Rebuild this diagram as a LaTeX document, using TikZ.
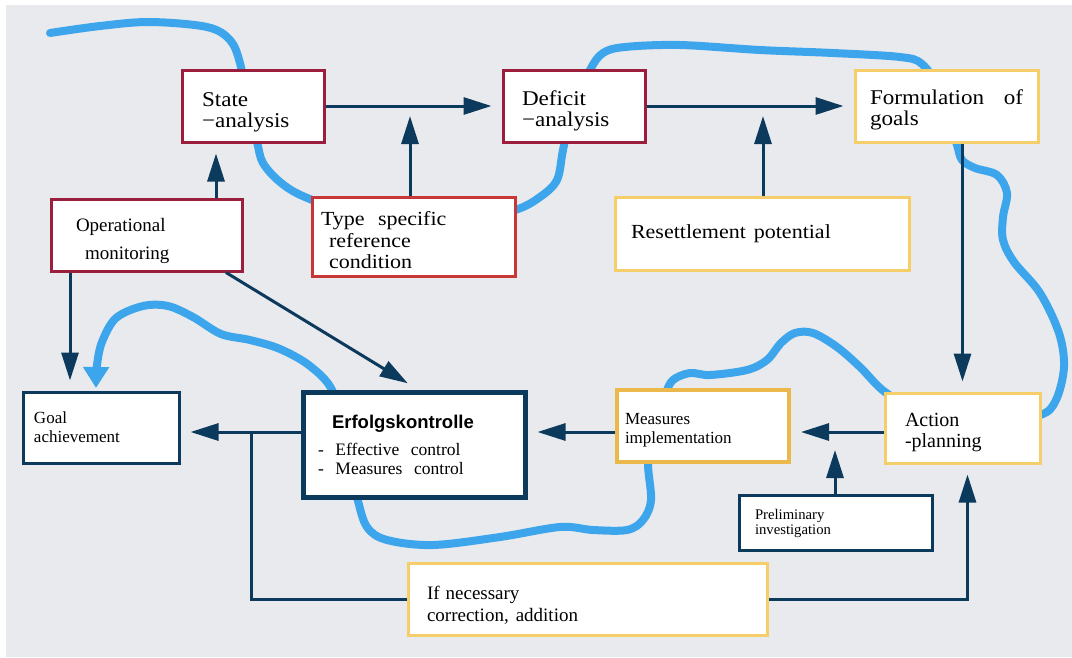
\documentclass[tikz,border=0pt]{standalone}
\usepackage{fontspec}
\setmainfont{Liberation Serif}
\setsansfont{Liberation Sans}
\newfontfamily\wideserif[FakeStretch=1.1]{Liberation Serif}
\usetikzlibrary{arrows.meta}
\definecolor{navy}{RGB}{12,58,92}
\definecolor{crimson}{RGB}{155,30,60}
\definecolor{brick}{RGB}{200,55,55}
\definecolor{sand}{RGB}{245,205,105}
\definecolor{ochre}{RGB}{235,185,75}
\definecolor{riverblue}{RGB}{60,165,235}
\definecolor{bggray}{RGB}{233,234,237}
\newcommand{\bigtxt}{\wideserif\fontsize{21}{21}\selectfont}
\newcommand{\midtxt}{\fontsize{17.5}{19}\selectfont}
\newcommand{\padtop}[1]{\rule{0pt}{#1}}

\begin{document}
\begin{tikzpicture}[x=1pt,y=-1pt,
box/.style={draw=#1,line width=3pt,fill=white,align=left,inner ysep=0pt},
arr/.style={-{Triangle[length=28pt,width=17pt]},line width=3pt,draw=navy,shorten >=10pt},
wire/.style={line width=3pt,draw=navy},
river/.style={line width=8pt,draw=riverblue,line cap=round,line join=round}]

\useasboundingbox (0,0) rectangle (1072,657);
\fill[white] (0,0) rectangle (1072,657);
\fill[bggray] (6,5) rectangle (1072,657);

% the blue line runs under the boxes
\draw[river,-{Triangle[length=21pt,width=25pt]}] plot[smooth,tension=.55] coordinates {
(50,33) (100,26) (150,22) (207,27) (230,40) (240,63) (248,105) (257,142) (263,163) (280,182)
(305,197) (360,215) (460,222) (515,210) (540,197) (557,180) (563,150) (572,110) (590,70)
(603,53) (625,47) (680,45) (760,50) (833,53) (900,57) (922,64) (940,90) (950,125) (957,145)
(962,160) (975,168) (997,175) (1007,193) (1003,217) (1003,240) (1014,262) (1040,293)
(1059,333) (1064,367) (1056,400) (1040,415) (990,420) (920,410) (885,392) (860,367)
(837,347) (813,333) (795,333) (781,343) (767,360) (747,370) (710,375) (690,373) (673,380)
(665,395) (652,430) (648,463) (651,500) (643,520) (627,530) (593,530) (560,527) (500,537)
(433,545) (387,540) (367,527) (357,497) (345,445) (333,392) (310,366) (280,349) (250,340)
(221,334) (193,317) (168,306) (143,306) (116,318) (102,342) (97,365) (96,388)};

\node[box=crimson,minimum width=142pt,minimum height=72pt,text width=102pt,inner xsep=20pt,font=\bigtxt](state)at(253,106){\padtop{26pt}State\\−analysis};
\node[box=crimson,minimum width=142pt,minimum height=72pt,text width=104pt,inner xsep=19pt,font=\bigtxt](deficit)at(574,106){\padtop{24pt}Deficit\\−analysis};
\node[box=sand,minimum width=183pt,minimum height=72pt,text width=153pt,inner xsep=15pt,font=\bigtxt](goals)at(946.5,106){\padtop{22pt}Formulation\hfill of\\goals};
\node[box=crimson,minimum width=191pt,minimum height=72pt,text width=141pt,inner xsep=25pt,font=\fontsize{19}{28}\selectfont](monitor)at(146.5,235){\padtop{25pt}Operational\\\hspace*{9pt}monitoring};
\node[box=brick,minimum width=203pt,minimum height=79pt,text width=185pt,inner xsep=9pt,font=\wideserif\fontsize{20}{21.5}\selectfont](typeref)at(413.5,236.5){\padtop{22pt}Type\ \ specific\\\hspace*{8pt}reference\\\hspace*{8pt}condition};
\node[box=sand,minimum width=294pt,minimum height=73pt,text width=262pt,inner xsep=16pt,font=\wideserif\fontsize{20}{21}\selectfont](resettle)at(762,233.5){Resettlement\hspace{8pt}potential};

\node[box=navy,minimum width=156pt,minimum height=71pt,text width=134pt,inner xsep=11pt,font=\fontsize{17}{19}\selectfont](achieve)at(101,427.5){Goal\\achievement};
\node[box=navy,line width=5pt,minimum width=222pt,minimum height=105pt,text width=192pt,inner xsep=15pt,font=\midtxt](control)at(414,444.5){{\sffamily\bfseries\fontsize{18.5}{19}\selectfont\hspace*{14pt}Erfolgskontrolle}\\[8pt]-\ \ Effective\ \ control\\-\ \ Measures\ \ control};
\node[box=ochre,line width=4pt,minimum width=172pt,minimum height=72pt,text width=156pt,inner xsep=8pt,font=\fontsize{17}{19}\selectfont](implement)at(703,426){\padtop{19.5pt}Measures\\implementation};
\node[box=sand,minimum width=155pt,minimum height=70pt,text width=115pt,inner xsep=20pt,font=\fontsize{20}{21}\selectfont](planning)at(962.5,428){\padtop{21.5pt}Action\\-planning};
\node[box=navy,minimum width=193pt,minimum height=55pt,text width=161pt,inner xsep=16pt,font=\fontsize{14.7}{15}\selectfont](prelim)at(835.5,522.5){\padtop{12pt}Preliminary\\investigation};
\node[box=sand,minimum width=359pt,minimum height=72pt,text width=321pt,inner xsep=19pt,font=\fontsize{19}{22}\selectfont](correct)at(587.5,599){\padtop{25pt}If\hspace{6pt}necessary\\correction,\hspace{7pt}addition};

\coordinate (m1) at (410,106);
\coordinate (m2) at (763,106);
\coordinate (m3) at (835,432);
\coordinate (br) at (251,432);

\draw[arr](state)--(deficit);
\draw[arr](typeref.north -| m1)--(m1);
\draw[arr](deficit)--(goals);
\draw[arr](resettle.north -| m2)--(m2);
\draw[arr](goals.south -| planning.north)--(planning.north);
\draw[arr](monitor.north -| 216,0)--(state.south -| 216,0);
\draw[arr](monitor.south -| 70,0)--(achieve.north -| 70,0);
\draw[arr,shorten >=12pt](monitor.south -| 226,0)--(control.north -| 418,0);
\draw[arr](control.west |- br)--(achieve.east |- br);
\draw[arr](implement.west |- br)--(control.east |- br);
\draw[arr](planning.west |- m3)--(implement.east |- m3);
\draw[arr,shorten >=18pt](prelim.north -| m3)--(m3);
\draw[wire](br)|-(correct.west);
\draw[arr](correct.east)-|([xshift=5pt]planning.south);
\end{tikzpicture}
\end{document}
